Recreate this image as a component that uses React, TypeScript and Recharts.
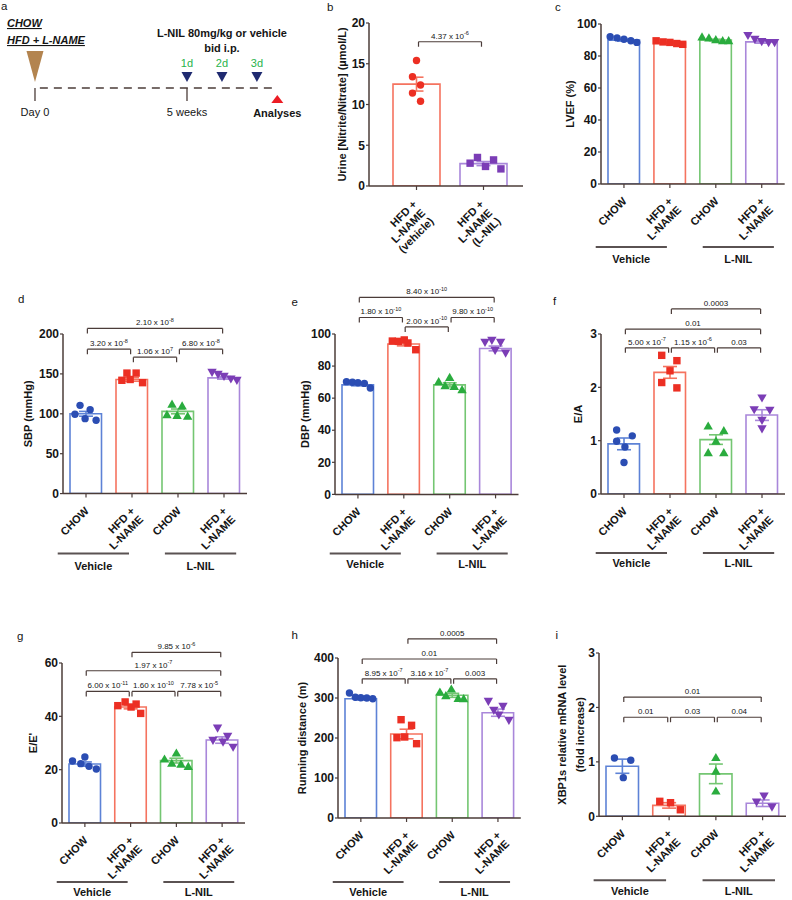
import React from 'react';
import { ComposedChart, Bar, Cell, Scatter, XAxis, YAxis, ErrorBar, ReferenceLine } from 'recharts';

const FONT = 'Arial, "Liberation Sans", Helvetica, sans-serif';
const AXIS = '#4b3c39';
const INK = '#151515';

// ---------------- data ----------------
const groupCategories = ['CHOW', 'HFD +|L-NAME', 'CHOW', 'HFD +|L-NAME'];
const treatmentLabels = ['Vehicle', 'L-NIL'];
const urineCategories = ['HFD +|L-NAME|(vehicle)', 'HFD +|L-NAME|(L-NIL)'];

// b: urine nitrite/nitrate
const urineTicks = [0, 5, 10, 15, 20];
const urineMeans = [12.5, 2.75];
const urineSem = [0.85, 0.25];
const urinePoints = [[15.4, 13.4, 12.4, 11.4, 10.4], [2.8, 3.5, 2.4, 3.2, 2.1]];
const urineSpread = [[0, -0.06, 0.06, -0.06, 0.06], [-0.2, -0.09, 0.03, 0.15, 0.26]];
const urineBrackets = [{ from: 0, to: 1, y: 17.7, label: '4.37 x 10^-6' }];

// c: LVEF
const lvefTicks = [0, 20, 40, 60, 80, 100];
const lvefMeans = [89.9, 88.3, 90, 88.8];
const lvefSem = [0.6, 0.4, 0.5, 0.8];
const lvefPoints = [[92, 91.3, 90.5, 89.5, 88.5], [89.5, 88.8, 88.5, 87.8, 87.3], [92, 91.3, 90.2, 89.6, 89.6], [92.8, 90.4, 89, 88.3, 88.3]];
const lvefSpread = [[-0.3, -0.15, 0, 0.15, 0.28], [-0.3, -0.15, 0, 0.15, 0.28], [-0.3, -0.15, 0, 0.15, 0.28], [-0.3, -0.15, 0, 0.15, 0.28]];

// d: SBP
const sbpTicks = [0, 50, 100, 150, 200];
const sbpMeans = [100, 143, 103, 145];
const sbpSem = [3, 2.2, 3, 1.6];
const sbpPoints = [[110.6, 99.4, 105.2, 93.9, 91.9], [151, 151, 142, 143, 139], [112, 110, 99, 98, 97], [152, 149.5, 147, 143.6, 142]];
const sbpSpread = [[-0.13, -0.24, 0.09, -0.02, 0.22], [-0.11, 0.09, -0.22, -0.04, 0.23], [-0.13, 0.09, -0.24, -0.02, 0.21], [-0.26, -0.13, 0, 0.15, 0.28]];
const sbpBrackets = [
  { from: 0, to: 3, y: 207, label: '2.10 x 10^-8' },
  { from: 0, to: 1, y: 181, label: '3.20 x 10^-8' },
  { from: 2, to: 3, y: 181, label: '6.80 x 10^-8' },
  { from: 1, to: 2, y: 171, label: '1.06 x 10^7' },
];

// e: DBP
const dbpTicks = [0, 20, 40, 60, 80, 100];
const dbpMeans = [68.3, 93.8, 68.3, 91];
const dbpSem = [0.6, 1.2, 1.3, 1.5];
const dbpPoints = [[70.3, 69.9, 69.6, 69.2, 66.3], [95.6, 95.4, 96.3, 94.4, 90.2], [70.3, 73, 67.8, 67.4, 65.3], [94.8, 96, 94.8, 89.8, 88.1]];
const dbpSpread = [[-0.25, -0.12, 0, 0.14, 0.27], [-0.25, -0.12, 0.01, 0.09, 0.26], [-0.24, 0, -0.1, 0.1, 0.27], [-0.23, -0.08, 0.11, -0.01, 0.22]];
const dbpBrackets = [
  { from: 0, to: 3, y: 122.8, label: '8.40 x 10^-10' },
  { from: 0, to: 1, y: 110.3, label: '1.80 x 10^-10' },
  { from: 2, to: 3, y: 110.3, label: '9.80 x 10^-10' },
  { from: 1, to: 2, y: 104.4, label: '2.00 x 10^-10' },
];

// f: E/A
const eaTicks = [0, 1, 2, 3];
const eaMeans = [0.94, 2.28, 1.02, 1.48];
const eaSem = [0.11, 0.11, 0.09, 0.1];
const eaPoints = [[1.2, 0.99, 1.09, 0.59, 0.88], [2.6, 2.5, 2.31, 2.09, 1.99], [1.275, 1.19, 0.99, 0.775, 0.775], [1.8, 1.58, 1.57, 1.38, 1.22]];
const eaSpread = [[-0.16, -0.16, 0.18, 0, 0.02], [-0.18, 0.15, 0, -0.18, 0.15], [-0.17, 0.17, 0, -0.17, 0.17], [0, -0.17, 0.17, 0, 0]];
const eaBrackets = [
  { from: 1, to: 3, y: 3.47, label: '0.0003' },
  { from: 0, to: 3, y: 3.09, label: '0.01' },
  { from: 0, to: 1, y: 2.74, label: '5.00 x 10^-7' },
  { from: 1, to: 2, y: 2.74, label: '1.15 x 10^-6' },
  { from: 2, to: 3, y: 2.74, label: '0.03' },
];

// g: E/E'
const eeTicks = [0, 20, 40, 60];
const eeMeans = [22.1, 43.5, 23.4, 31.1];
const eeSem = [0.8, 0.7, 0.9, 1.2];
const eePoints = [[23.25, 24.75, 22.25, 21.25, 20.25], [44, 45.4, 43.5, 44.6, 41.1], [24, 26.25, 22.4, 22.1, 21.25], [35.6, 32.5, 31, 30.3, 28.4]];
const eeSpread = [[-0.27, 0, -0.09, 0.09, 0.25], [-0.28, -0.12, 0.01, 0.12, 0.22], [-0.26, 0, -0.1, 0.1, 0.26], [-0.1, 0.12, -0.2, 0.02, 0.24]];
const eeBrackets = [
  { from: 1, to: 3, y: 64, label: '9.85 x 10^-6' },
  { from: 0, to: 3, y: 57.1, label: '1.97 x 10^-7' },
  { from: 0, to: 1, y: 49.35, label: '6.00 x 10^-11' },
  { from: 1, to: 2, y: 49.35, label: '1.60 x 10^-10' },
  { from: 2, to: 3, y: 49.35, label: '7.78 x 10^-5' },
];

// h: running distance
const runTicks = [0, 100, 200, 300, 400];
const runMeans = [298.3, 210, 306.7, 263.3];
const runSem = [3, 12, 5, 9];
const runPoints = [[312.5, 301.7, 300.8, 300, 298.3], [245.8, 231.7, 200.8, 202.5, 185.8], [315, 322.5, 305.8, 299.2, 298.3], [291.7, 279.2, 269.2, 257.5, 244.2]];
const runSpread = [[-0.25, -0.12, 0, 0.13, 0.26], [-0.12, 0.11, -0.21, -0.04, 0.22], [-0.27, -0.02, -0.14, 0.13, 0.25], [-0.21, 0.11, -0.09, 0.02, 0.24]];
const runBrackets = [
  { from: 1, to: 3, y: 448, label: '0.0005' },
  { from: 0, to: 3, y: 397.5, label: '0.01' },
  { from: 0, to: 1, y: 348, label: '8.95 x 10^-7' },
  { from: 1, to: 2, y: 348, label: '3.16 x 10^-7' },
  { from: 2, to: 3, y: 348, label: '0.003' },
];

// i: XBP1s
const xbpTicks = [0, 1, 2, 3];
const xbpMeans = [0.92, 0.2, 0.78, 0.24];
const xbpSem = [0.13, 0.05, 0.18, 0.06];
const xbpPoints = [[1.07, 1.03, 0.71], [0.275, 0.25, 0.12], [1.08, 0.83, 0.465], [0.26, 0.37, 0.17]];
const xbpSpread = [[-0.17, 0.18, 0.02], [-0.2, 0.03, 0.24], [0, 0, 0], [-0.13, 0.03, 0.2]];
const xbpBrackets = [
  { from: 0, to: 3, y: 2.19, label: '0.01' },
  { from: 0, to: 1, y: 1.82, label: '0.01' },
  { from: 1, to: 2, y: 1.82, label: '0.03' },
  { from: 2, to: 3, y: 1.82, label: '0.04' },
];

// a: study timeline (schematic positions)
const milestones = [{ t: 0, v: 0, label: 'Day 0' }, { t: 5, v: 0, label: '5 weeks' }];
const dietStart = [{ t: 0, v: 0 }];
const dietLabels = ['CHOW', 'HFD + L-NAME'];
const dosingDays = [{ t: 5, v: 0, label: '1d' }, { t: 6.15, v: 0, label: '2d' }, { t: 7.3, v: 0, label: '3d' }];
const regimenText = ['L-NIL 80mg/kg or vehicle', 'bid i.p.'];
const regimenAt = [{ t: 6.15, v: 0 }];
const analysisAt = [{ t: 7.97, v: 0, label: 'Analyses' }];

// ---------------- styling ----------------
const BAR_COLORS = ['#5d82d6', '#f5735f', '#74c672', '#a987da'];
const DOT_COLORS = ['#2b4db3', '#ec2f23', '#2aac3e', '#7b3db6'];
const SHAPES = ['circle', 'square', 'triangle', 'triangleDown'];

function markerShape(kind: string, color: string) {
  return (props: any) => {
    const { cx, cy } = props;
    if (cx == null || cy == null) return <g />;
    if (kind === 'circle') return <circle cx={cx} cy={cy} r={3.7} fill={color} />;
    if (kind === 'square') return <rect x={cx - 3.7} y={cy - 3.7} width={7.4} height={7.4} fill={color} />;
    if (kind === 'triangle')
      return <polygon points={`${cx},${cy - 4.6} ${cx - 4.7},${cy + 3.6} ${cx + 4.7},${cy + 3.6}`} fill={color} />;
    return <polygon points={`${cx},${cy + 4.6} ${cx - 4.7},${cy - 3.6} ${cx + 4.7},${cy - 3.6}`} fill={color} />;
  };
}

const emptyShape = () => <g />;

const makeCatTick = (labels: string[], dx: number, dy: number) => (props: any) => {
  const { x, y, payload } = props;
  const lines = (labels[Number(payload.value)] ?? '').split('|');
  return (
    <g transform={`translate(${x + dx},${y + dy})`}>
      <text transform="rotate(-45)" textAnchor="end" fontSize={11} fontWeight={700} fill={INK} fontFamily={FONT}>
        {lines.map((l, k) => (
          <tspan key={k} x={0} dy={k === 0 ? 0 : 12}>
            {l}
          </tspan>
        ))}
      </text>
    </g>
  );
};

const makeGroupTick = (labels: string[], centers: number[], lineY: number, textY: number, halfW: number) => (props: any) => {
  const { x, payload, index } = props;
  let idx = centers.indexOf(payload?.value);
  if (idx < 0) idx = index ?? 0;
  return (
    <g>
      <line x1={x - halfW} x2={x + halfW} y1={lineY} y2={lineY} stroke="#5a5252" strokeWidth={2} />
      <text x={x} y={textY} textAnchor="middle" fontSize={11} fontWeight={700} fill={INK} fontFamily={FONT}>
        {labels[idx]}
      </text>
    </g>
  );
};

const makeBracketLabel = (text: string) => (props: any) => {
  const vb = props.viewBox || {};
  let x1: number, x2: number, y: number;
  if (vb.x1 !== undefined) {
    x1 = Math.min(vb.x1, vb.x2);
    x2 = Math.max(vb.x1, vb.x2);
    y = vb.y1;
  } else {
    x1 = vb.x;
    x2 = vb.x + vb.width;
    y = vb.y;
  }
  const [base, exp] = text.split('^');
  return (
    <g>
      <line x1={x1} y1={y} x2={x1} y2={y + 5} stroke={AXIS} strokeWidth={1.2} />
      <line x1={x2} y1={y} x2={x2} y2={y + 5} stroke={AXIS} strokeWidth={1.2} />
      <text x={(x1 + x2) / 2} y={y - 3} textAnchor="middle" fontSize={8} fill={INK} fontFamily={FONT}>
        {base}
        {exp ? (
          <tspan dy={-3.5} fontSize={5.5}>
            {exp}
          </tspan>
        ) : null}
      </text>
    </g>
  );
};

type Bracket = { from: number; to: number; y: number; label: string };

type PanelProps = {
  axisX: number;
  xEnd: number;
  yTop: number;
  yBot: number;
  padL?: number;
  padR?: number;
  barSize: number;
  max: number;
  ticks: number[];
  categories: string[];
  means: number[];
  sems: number[];
  points: number[][];
  spread: number[][];
  colorIdx: number[];
  shapeIdx: number[];
  brackets?: Bracket[];
  yLabel: string[];
  yLabelX: number[];
  groups?: { lineDy: number; textDy: number };
  tickDx?: number;
  tickDy?: number;
};

const YW = 75;
const TOPM = 50;
const RIGHTM = 8;
const CATH = 55;
const NUMH = 40;

function StatPanel(p: PanelProps) {
  const n = p.categories.length;
  const padL = p.padL ?? 0;
  const padR = p.padR ?? 0;
  const left = p.axisX - YW;
  const top = p.yTop - TOPM;
  const width = p.xEnd - left + RIGHTM;
  const height = p.yBot - top + CATH + NUMH;
  const band = (p.xEnd - p.axisX - padL - padR) / n;
  const rows = p.means.map((m, i) => ({ id: i, y: m }));
  const groupCenters = [0.66, 2.99];
  const yMid = (p.yTop + p.yBot) / 2 - top;

  const yLabel = () => (
    <g>
      {p.yLabel.map((l, k) => {
        const lx = p.yLabelX[k] - left;
        return (
          <text
            key={k}
            x={lx}
            y={yMid}
            transform={`rotate(-90 ${lx} ${yMid})`}
            textAnchor="middle"
            dy="0.36em"
            fontSize={11}
            fontWeight={700}
            fill={INK}
            fontFamily={FONT}
          >
            {l}
          </text>
        );
      })}
    </g>
  );

  return (
    <div style={{ position: 'absolute', left, top, width, height }}>
      <ComposedChart width={width} height={height} data={rows} margin={{ top: TOPM, right: RIGHTM, left: 0, bottom: 0 }}>
        <XAxis
          xAxisId="cat"
          dataKey="id"
          type="category"
          height={CATH}
          padding={{ left: padL, right: padR }}
          axisLine={{ stroke: AXIS, strokeWidth: 1.5 }}
          tickLine={{ stroke: AXIS, strokeWidth: 1.2 }}
          tickSize={4}
          tickMargin={2}
          interval={0}
          tick={makeCatTick(p.categories, p.tickDx ?? 3.5, p.tickDy ?? 12)}
        />
        <XAxis
          xAxisId="num"
          dataKey="x"
          type="number"
          domain={[0, n]}
          height={NUMH}
          padding={{ left: padL, right: padR }}
          axisLine={false}
          tickLine={false}
          allowDataOverflow
          interval={0}
          ticks={p.groups ? groupCenters : undefined}
          tick={
            p.groups
              ? makeGroupTick(treatmentLabels, groupCenters, p.yBot - top + p.groups.lineDy, p.yBot - top + p.groups.textDy, band * 0.775)
              : false
          }
        />
        <YAxis
          dataKey="y"
          type="number"
          domain={[0, p.max]}
          ticks={p.ticks}
          allowDataOverflow
          width={YW}
          axisLine={{ stroke: AXIS, strokeWidth: 1.5 }}
          tickLine={{ stroke: AXIS, strokeWidth: 1.2 }}
          tickSize={3}
          tickMargin={1}
          tick={{ fontSize: 12, fontWeight: 700, fill: INK, fontFamily: FONT }}
          label={yLabel}
        />
        <Bar xAxisId="cat" dataKey="y" barSize={p.barSize} fill="#ffffff" isAnimationActive={false}>
          {rows.map((r, i) => (
            <Cell key={i} stroke={BAR_COLORS[p.colorIdx[i]]} strokeWidth={1.6} fill="#ffffff" />
          ))}
        </Bar>
        {rows.map((r, i) => (
          <Scatter
            key={'e' + i}
            xAxisId="num"
            data={[{ x: i + 0.5, y: p.means[i], sem: p.sems[i] }]}
            shape={emptyShape}
            isAnimationActive={false}
          >
            <ErrorBar dataKey="sem" direction="y" width={7} stroke={BAR_COLORS[p.colorIdx[i]]} strokeWidth={1.6} isAnimationActive={false} />
          </Scatter>
        ))}
        {p.points.map((vals, i) => (
          <Scatter
            key={'p' + i}
            xAxisId="num"
            data={vals.map((v, k) => ({ x: i + 0.5 + p.spread[i][k], y: v }))}
            shape={markerShape(SHAPES[p.shapeIdx[i]], DOT_COLORS[p.colorIdx[i]])}
            isAnimationActive={false}
          />
        ))}
        {(p.brackets || []).map((b, k) => (
          <ReferenceLine
            key={'b' + k}
            xAxisId="num"
            segment={[
              { x: b.from + 0.5 + 0.03, y: b.y },
              { x: b.to + 0.5 - 0.03, y: b.y },
            ]}
            stroke={AXIS}
            strokeWidth={1.2}
            ifOverflow="visible"
            label={makeBracketLabel(b.label)}
          />
        ))}
      </ComposedChart>
    </div>
  );
}

// ---------------- panel a ----------------
function TimelinePanel() {
  const milestoneShape = (props: any) => {
    const { cx, cy, payload } = props;
    return (
      <g>
        <line x1={cx} x2={cx} y1={cy} y2={cy + 13} stroke={AXIS} strokeWidth={1.3} />
        <text x={cx} y={cy + 28} textAnchor="middle" fontSize={11} fill={INK} fontFamily={FONT}>
          {payload.label}
        </text>
      </g>
    );
  };
  const dietShape = (props: any) => {
    const { cx, cy } = props;
    return (
      <g>
        <polygon points={`${cx - 8.5},${cy - 37} ${cx + 8.5},${cy - 37} ${cx},${cy - 6}`} fill="#b3844f" />
        {dietLabels.map((l, k) => (
          <text
            key={k}
            x={cx - 28}
            y={cy - 61 + k * 17}
            fontSize={11}
            fontWeight={700}
            fontStyle="italic"
            textDecoration="underline"
            fill={INK}
            fontFamily={FONT}
          >
            {l}
          </text>
        ))}
      </g>
    );
  };
  const doseShape = (props: any) => {
    const { cx, cy, payload } = props;
    return (
      <g>
        <polygon points={`${cx - 5.5},${cy - 16} ${cx + 5.5},${cy - 16} ${cx},${cy - 6}`} fill="#1f2a70" />
        <text x={cx} y={cy - 21} textAnchor="middle" fontSize={11} fill="#27b34b" fontFamily={FONT}>
          {payload.label}
        </text>
      </g>
    );
  };
  const regimenShape = (props: any) => {
    const { cx, cy } = props;
    return (
      <g>
        {regimenText.map((l, k) => (
          <text key={k} x={cx} y={cy - 51 + k * 15} textAnchor="middle" fontSize={11} fontWeight={700} fill={INK} fontFamily={FONT}>
            {l}
          </text>
        ))}
      </g>
    );
  };
  const analysisShape = (props: any) => {
    const { cx, cy, payload } = props;
    return (
      <g>
        <polygon points={`${cx - 6},${cy + 15} ${cx + 6},${cy + 15} ${cx},${cy + 7}`} fill="#ec1c24" />
        <text x={cx} y={cy + 29} textAnchor="middle" fontSize={11} fontWeight={700} fill={INK} fontFamily={FONT}>
          {payload.label}
        </text>
      </g>
    );
  };
  return (
    <div style={{ position: 'absolute', left: 0, top: 0, width: 310, height: 130 }}>
      <ComposedChart width={310} height={130} margin={{ top: 46, right: 0, left: 0, bottom: 0 }}>
        <XAxis dataKey="t" type="number" domain={[-1.151, 9.046]} hide height={0} allowDataOverflow />
        <YAxis dataKey="v" type="number" domain={[-1, 1]} hide width={0} />
        <ReferenceLine
          segment={[
            { x: 0.16, y: 0 },
            { x: 7.95, y: 0 },
          ]}
          stroke={AXIS}
          strokeWidth={1.3}
          strokeDasharray="8 6"
          ifOverflow="visible"
        />
        <Scatter data={milestones} shape={milestoneShape} isAnimationActive={false} />
        <Scatter data={dietStart} shape={dietShape} isAnimationActive={false} />
        <Scatter data={dosingDays} shape={doseShape} isAnimationActive={false} />
        <Scatter data={regimenAt} shape={regimenShape} isAnimationActive={false} />
        <Scatter data={analysisAt} shape={analysisShape} isAnimationActive={false} />
      </ComposedChart>
    </div>
  );
}

const panelLetters = [
  { t: 'a', x: 1, y: 10 },
  { t: 'b', x: 327, y: 10.5 },
  { t: 'c', x: 555, y: 11 },
  { t: 'd', x: 18, y: 303 },
  { t: 'e', x: 291.5, y: 306 },
  { t: 'f', x: 553, y: 305 },
  { t: 'g', x: 17, y: 640 },
  { t: 'h', x: 291.5, y: 639 },
  { t: 'i', x: 555.5, y: 639 },
];

const fourGroups = { colorIdx: [0, 1, 2, 3], shapeIdx: [0, 1, 2, 3], categories: groupCategories, barSize: 31.5 };

export default function App() {
  return (
    <div style={{ position: 'absolute', left: 0, top: 0, width: 792, height: 900, overflow: 'hidden', background: '#fff', fontFamily: FONT }}>
      <TimelinePanel />
      <StatPanel
        axisX={369}
        xEnd={523}
        yTop={22.7}
        yBot={185.7}
        padL={14}
        padR={6}
        barSize={47}
        max={20}
        ticks={urineTicks}
        categories={urineCategories}
        means={urineMeans}
        sems={urineSem}
        points={urinePoints}
        spread={urineSpread}
        colorIdx={[1, 3]}
        shapeIdx={[0, 1]}
        brackets={urineBrackets}
        yLabel={['Urine [Nitrite/Nitrate] (\u00b5mol/L)']}
        yLabelX={[341.7]}
        tickDx={1}
        tickDy={13}
      />
      <StatPanel
        {...fourGroups}
        axisX={601.3}
        xEnd={785}
        yTop={24}
        yBot={184}
        max={100}
        ticks={lvefTicks}
        means={lvefMeans}
        sems={lvefSem}
        points={lvefPoints}
        spread={lvefSpread}
        yLabel={['LVEF (%)']}
        yLabelX={[570]}
        groups={{ lineDy: 63, textDy: 79 }}
      />
      <StatPanel
        {...fourGroups}
        axisX={63}
        xEnd={247}
        yTop={333.7}
        yBot={493.3}
        max={200}
        ticks={sbpTicks}
        means={sbpMeans}
        sems={sbpSem}
        points={sbpPoints}
        spread={sbpSpread}
        brackets={sbpBrackets}
        yLabel={['SBP (mmHg)']}
        yLabelX={[28]}
        groups={{ lineDy: 60, textDy: 76 }}
      />
      <StatPanel
        {...fourGroups}
        axisX={335}
        xEnd={518.5}
        yTop={334.3}
        yBot={494.7}
        max={100}
        ticks={dbpTicks}
        means={dbpMeans}
        sems={dbpSem}
        points={dbpPoints}
        spread={dbpSpread}
        brackets={dbpBrackets}
        yLabel={['DBP (mmHg)']}
        yLabelX={[305]}
        groups={{ lineDy: 59, textDy: 74 }}
      />
      <StatPanel
        {...fourGroups}
        axisX={600.5}
        xEnd={784.5}
        yTop={334}
        yBot={494}
        max={3}
        ticks={eaTicks}
        means={eaMeans}
        sems={eaSem}
        points={eaPoints}
        spread={eaSpread}
        brackets={eaBrackets}
        yLabel={['E/A']}
        yLabelX={[578]}
        groups={{ lineDy: 59, textDy: 73 }}
      />
      <StatPanel
        {...fourGroups}
        axisX={61.5}
        xEnd={244.5}
        yTop={663.3}
        yBot={823.3}
        max={60}
        ticks={eeTicks}
        means={eeMeans}
        sems={eeSem}
        points={eePoints}
        spread={eeSpread}
        brackets={eeBrackets}
        yLabel={["E/E'"]}
        yLabelX={[33]}
        groups={{ lineDy: 59, textDy: 73 }}
      />
      <StatPanel
        {...fourGroups}
        axisX={337.7}
        xEnd={520.5}
        yTop={658.3}
        yBot={818.3}
        max={400}
        ticks={runTicks}
        means={runMeans}
        sems={runSem}
        points={runPoints}
        spread={runSpread}
        brackets={runBrackets}
        yLabel={['Running distance (m)']}
        yLabelX={[302]}
        groups={{ lineDy: 64, textDy: 78 }}
      />
      <StatPanel
        {...fourGroups}
        barSize={32.5}
        axisX={599}
        xEnd={786}
        yTop={652.7}
        yBot={816}
        max={3}
        ticks={xbpTicks}
        means={xbpMeans}
        sems={xbpSem}
        points={xbpPoints}
        spread={xbpSpread}
        brackets={xbpBrackets}
        yLabel={['XBP1s relative mRNA level', '(fold increase)']}
        yLabelX={[562, 580]}
        groups={{ lineDy: 64, textDy: 79 }}
      />
      <svg width={792} height={900} style={{ position: 'absolute', left: 0, top: 0, pointerEvents: 'none' }}>
        {panelLetters.map((l) => (
          <text key={l.t} x={l.x} y={l.y} fontSize={11.5} fill={INK} fontFamily={FONT}>
            {l.t}
          </text>
        ))}
      </svg>
    </div>
  );
}
